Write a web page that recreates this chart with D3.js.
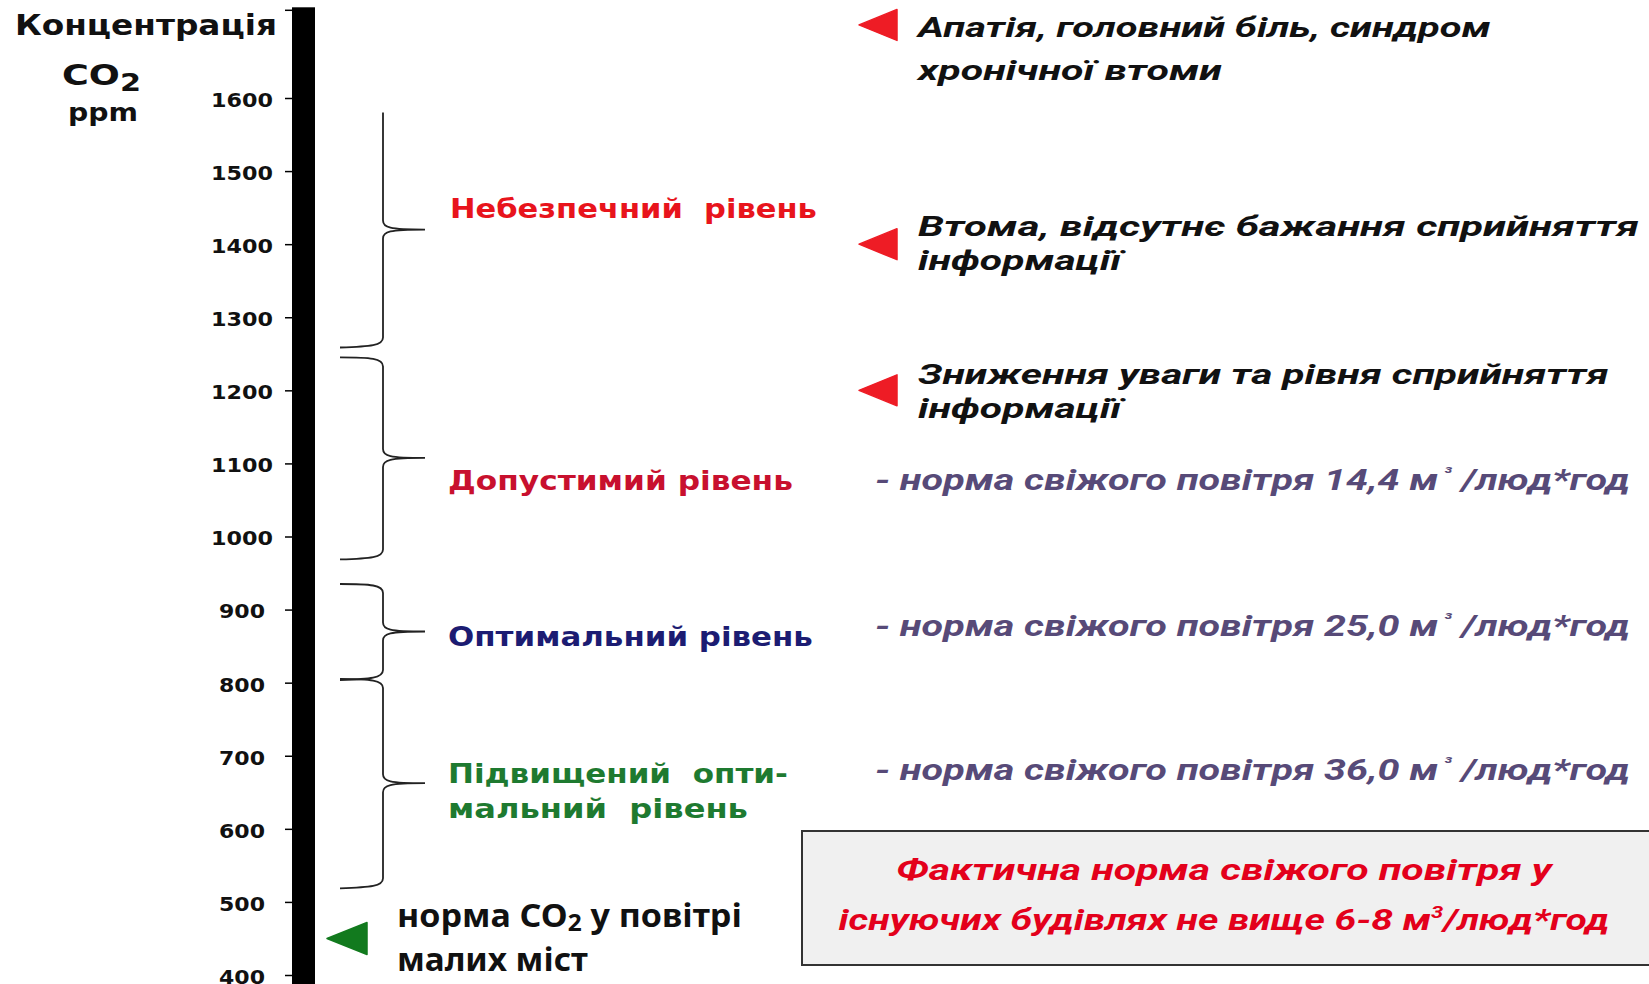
<!DOCTYPE html>
<html><head><meta charset="utf-8">
<script src="https://cdn.jsdelivr.net/npm/d3@7"></script>
<style>body{margin:0;background:#fff} svg{display:block;background:#fff}</style>
</head><body>
<svg id="chart" width="1649" height="984"></svg>
<script>
// ---------------- DATA ----------------
const tickValues = [400,500,600,700,800,900,1000,1100,1200,1300,1400,1500,1600];
const axisTop = 1720;
const levelNames = [["Небезпечний  рівень"],["Допустимий рівень"],["Оптимальний рівень"],["Підвищений  опти-","мальний  рівень"]];
const levelFrom = [1580,1245,935,805];
const levelTo = [1260,970,805,520];
const symptomValues = [1700,1400,1200];
const symptomTexts = [
  ["Апатія, головний біль, синдром","хронічної втоми"],
  ["Втома, відсутнє бажання сприйняття","інформації"],
  ["Зниження уваги та рівня сприйняття","інформації"]
];
const airNormValues = ["14,4","25,0","36,0"];
const cityNormValue = 450;
const cityNormLines = [["норма CO","2"," у повітрі"],["малих міст"]];
const actualNormLines = ["Фактична норма свіжого повітря у","існуючих будівлях не вище 6-8 м","3","/люд*год"];
const headerLines = ["Концентрація","CO","2","ppm"];

// ---------------- LAYOUT / STYLE ----------------
const levelColors = ["#e8141c","#c8102e","#1c1c72","#1e7a30"];
const levelFont = [27,26,26,26];
const levelDy = [[-12],[32],[15],[0,35]];
const levelW = [[367],[345],[365],[340,300]];
const levelTopCurl = [false,true,true,true];
const symDy = [[12,55],[-8,26],[-6,28]];
const symW = [[573,304],[721,203],[691,203]];
const normLevel = [1,2,3];
const normDy = [32,4.5,-3.6];

const W = 1649, H = 984;
const svg = d3.select("#chart");
const y = d3.scaleLinear().domain([400,1600]).range([975,98]);

const boldSans = "'DejaVu Sans', Verdana, sans-serif";
const noto = "'Noto Sans', 'Open Sans', sans-serif";
const italicSans = "Roboto, 'Noto Sans', sans-serif";

// horizontally scale a text about its anchor x so that it takes width w
function fit(t, w){
  const w0 = t.node().getComputedTextLength();
  if (!w0) return t;
  const s = w / w0;
  const x = +t.attr("x") || 0;
  const prev = t.attr("transform") || "";
  t.attr("transform", `${prev} translate(${x},0) scale(${s},1) translate(${-x},0)`);
  return t;
}

// ---------------- Header ----------------
fit(svg.append("text").attr("x",15).attr("y",35).attr("font-family",boldSans).attr("font-weight","bold")
  .attr("font-size",28).attr("fill","#111").text(headerLines[0]), 262);
const co = svg.append("text").attr("x",62).attr("y",85).attr("font-family",boldSans).attr("font-weight","bold")
  .attr("font-size",29).attr("fill","#111");
co.append("tspan").text(headerLines[1]);
co.append("tspan").attr("font-size",24).attr("dy",6).text(headerLines[2]);
fit(co, 79);
fit(svg.append("text").attr("x",68).attr("y",121).attr("font-family",boldSans).attr("font-weight","bold")
  .attr("font-size",24).attr("fill","#111").text(headerLines[3]), 70);

// ---------------- Axis ----------------
const axisX = 292;
svg.append("rect").attr("x",axisX).attr("y",y(axisTop)-3).attr("width",23).attr("height",H - y(axisTop) + 10).attr("fill","#000");
svg.append("line").attr("x1",axisX-7).attr("x2",axisX).attr("y1",y(axisTop)).attr("y2",y(axisTop)).attr("stroke","#000").attr("stroke-width",1.5);

const axis = d3.axisLeft(y).tickValues(tickValues).tickSize(7).tickPadding(4).tickFormat(d3.format("d"));
const ag = svg.append("g").attr("transform",`translate(${axisX},0)`).call(axis);
ag.select(".domain").remove();
ag.selectAll(".tick line").attr("stroke","#000").attr("stroke-width",1.5);
ag.selectAll(".tick text")
  .attr("x",-50).attr("dy","0.42em").attr("text-anchor","middle")
  .attr("font-family",boldSans).attr("font-weight","bold").attr("font-size",20).attr("fill","#111")
  .each(function(d){ fit(d3.select(this), String(d).length===4 ? 62 : 46); });

// ---------------- Braces ----------------
const xv = 383, x0 = 340, xt = 425;
function bracePath(yTop, yBot, topCurl){
  const yMid = (yTop+yBot)/2;
  const p = d3.path();
  if(topCurl){
    p.moveTo(x0, yTop);
    p.bezierCurveTo(xv-12, yTop, xv, yTop+1, xv, yTop+9);
  } else {
    p.moveTo(xv, yTop);
  }
  p.lineTo(xv, yMid-9);
  p.bezierCurveTo(xv, yMid-2, xv+6, yMid, xt, yMid);
  p.moveTo(xt, yMid);
  p.bezierCurveTo(xv+6, yMid, xv, yMid+2, xv, yMid+9);
  p.lineTo(xv, yBot-9);
  p.bezierCurveTo(xv, yBot-1, xv-12, yBot, x0, yBot+1);
  return p.toString();
}
levelFrom.forEach((f,i)=>{
  svg.append("path").attr("d", bracePath(y(f), y(levelTo[i]), levelTopCurl[i]))
    .attr("fill","none").attr("stroke","#222").attr("stroke-width",1.8);
  const tipY = y((f+levelTo[i])/2);
  levelNames[i].forEach((ln,j)=>{
    const t = svg.append("text").attr("x", i===0?450:448).attr("y", tipY + levelDy[i][j])
      .attr("font-family",boldSans).attr("font-weight","bold").attr("font-size",levelFont[i])
      .attr("fill",levelColors[i]).style("white-space","pre").text(ln);
    fit(t, levelW[i][j]);
  });
});

// ---------------- Air norms ----------------
airNormValues.forEach((v,k)=>{
  const li = normLevel[k];
  const tipY = y((levelFrom[li]+levelTo[li])/2);
  const t = svg.append("text").attr("x",875).attr("y",tipY + normDy[k])
    .attr("font-family",italicSans).attr("font-weight","bold").attr("font-style","italic")
    .attr("font-size",29).attr("fill","#574a78").style("white-space","pre");
  t.append("tspan").text(`- норма свіжого повітря ${v} м`);
  t.append("tspan").attr("font-size",16).attr("dy",-12).text(" ³");
  t.append("tspan").attr("dy",12).text(" /люд*год");
  fit(t, 755);
});

// ---------------- Symptoms (red markers) ----------------
symptomValues.forEach((v,i)=>{
  const yy = y(v);
  svg.append("path").attr("d", d3.line()([[859,yy],[897,yy-15.5],[897,yy+15.5]]) + "Z")
    .attr("fill","#ee1c25").attr("stroke","#ee1c25").attr("stroke-width",1.5).attr("stroke-linejoin","round");
  symptomTexts[i].forEach((ln,j)=>{
    const t = svg.append("text").attr("x",918).attr("y",yy + symDy[i][j])
      .attr("font-family",italicSans).attr("font-weight","bold").attr("font-style","italic")
      .attr("font-size",28).attr("fill","#111").text(ln);
    fit(t, symW[i][j]);
  });
});

// ---------------- City norm (green marker) ----------------
const yc = y(cityNormValue);
svg.append("path").attr("d", d3.line()([[327,yc],[367,yc-16],[367,yc+16]]) + "Z")
  .attr("fill","#127a1e").attr("stroke","#127a1e").attr("stroke-width",1.5).attr("stroke-linejoin","round");
const c1 = svg.append("text").attr("x",397).attr("y",yc-11.5).attr("font-family",noto).attr("font-weight","bold")
  .attr("font-size",32).attr("fill","#111");
c1.append("tspan").text(cityNormLines[0][0]);
c1.append("tspan").attr("font-size",23).attr("dy",4).text(cityNormLines[0][1]);
c1.append("tspan").attr("dy",-4).text(cityNormLines[0][2]);
fit(c1, 345);
fit(svg.append("text").attr("x",397).attr("y",yc+33).attr("font-family",noto).attr("font-weight","bold")
  .attr("font-size",32).attr("fill","#111").text(cityNormLines[1][0]), 191);

// ---------------- Actual norm box ----------------
svg.append("rect").attr("x",802).attr("y",831).attr("width",880).attr("height",134)
  .attr("fill","#f0f0f0").attr("stroke","#333").attr("stroke-width",2);
fit(svg.append("text").attr("x",1224).attr("y",880).attr("text-anchor","middle")
  .attr("font-family",italicSans).attr("font-weight","bold").attr("font-style","italic")
  .attr("font-size",30).attr("fill","#e3001b").text(actualNormLines[0]), 656);
const b2 = svg.append("text").attr("x",1224).attr("y",930).attr("text-anchor","middle")
  .attr("font-family",italicSans).attr("font-weight","bold").attr("font-style","italic")
  .attr("font-size",30).attr("fill","#e3001b");
b2.append("tspan").text(actualNormLines[1]);
b2.append("tspan").attr("font-size",17).attr("dy",-12).text(actualNormLines[2]);
b2.append("tspan").attr("dy",12).text(actualNormLines[3]);
fit(b2, 771);
</script>
</body></html>
